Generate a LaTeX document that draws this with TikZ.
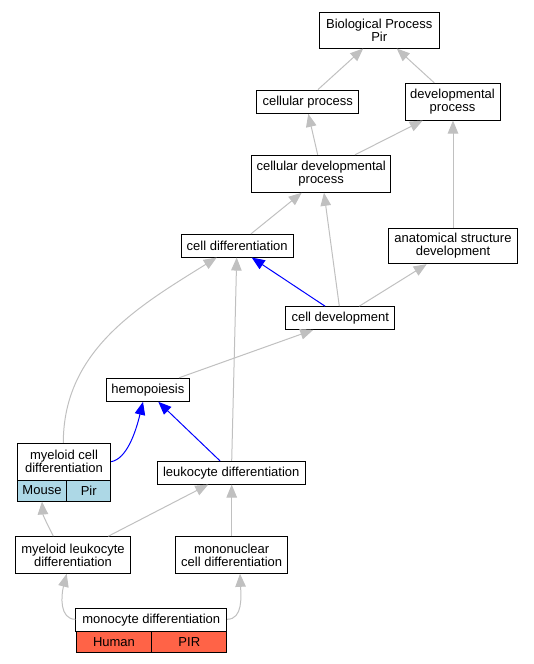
\documentclass[tikz,border=0pt]{standalone}
\usepackage{fontspec}
\setmainfont{Liberation Sans}
\usetikzlibrary{arrows.meta}
\definecolor{edgegray}{HTML}{C0C0C0}
\definecolor{fieldblue}{HTML}{ADD8E6}
\definecolor{fieldred}{HTML}{FF6347}
\begin{document}
\begin{tikzpicture}[x=1pt,y=-1pt,
  box/.style={draw=black, line width=1pt, fill=white, inner sep=0pt, align=center,
    font=\fontsize{13}{13}\selectfont},
  edge/.style={draw=edgegray, line width=1pt, -{Triangle[length=13pt,width=10.5pt]}},
  bedge/.style={edge, draw=blue}]
\useasboundingbox (0,0) rectangle (533,664);
% nodes
\node[box, minimum width=119.7pt, minimum height=36pt] (bp) at (379.2,30) {Biological Process\\Pir};
\node[box, minimum width=102pt, minimum height=23.3pt] (cp) at (307.7,101.7) {cellular process};
\node[box, minimum width=95pt, minimum height=36.7pt] (dp) at (452.5,101.7) {developmental\\process};
\node[box, minimum width=139pt, minimum height=37pt] (cdp) at (321.2,173.8) {cellular developmental\\process};
\node[box, minimum width=112.3pt, minimum height=22.7pt] (cd) at (237.2,245.7) {cell differentiation};
\node[box, minimum width=128.7pt, minimum height=35.4pt] (asd) at (453,246) {anatomical structure\\development};
\node[box, minimum width=108.7pt, minimum height=22.7pt] (cdev) at (340.3,318) {cell development};
\node[box, minimum width=83pt, minimum height=23pt] (hemo) at (147.8,389.8) {hemopoiesis};
\node[box, minimum width=93.4pt, minimum height=36.7pt] (mcd) at (64,461.7) {myeloid cell\\differentiation};
\node[box, fill=fieldblue, minimum width=49.4pt, minimum height=21pt] (mcdA) at (42,490.5) {Mouse};
\node[box, fill=fieldblue, minimum width=44pt, minimum height=21pt] (mcdB) at (88.7,490.5) {Pir};
\node[box, minimum width=148.3pt, minimum height=22.7pt] (ld) at (231.2,472.7) {leukocyte differentiation};
\node[box, minimum width=114.6pt, minimum height=36.6pt] (mld) at (73,555) {myeloid leukocyte\\differentiation};
\node[box, minimum width=112pt, minimum height=36.6pt] (mnd) at (231.7,555) {mononuclear\\cell differentiation};
\node[box, minimum width=150.7pt, minimum height=22.7pt] (mono) at (151.3,620.3) {monocyte differentiation};
\node[box, fill=fieldred, minimum width=76pt, minimum height=21pt] (monoA) at (114,642.2) {Human};
\node[box, fill=fieldred, minimum width=74.7pt, minimum height=21pt] (monoB) at (189.3,642.2) {PIR};
% edges
\draw[edge] ([xshift=10.3pt]cp.north) -- ([xshift=-16pt]bp.south);
\draw[edge] ([xshift=-18.2pt]dp.north) -- ([xshift=17.5pt]bp.south);
\draw[edge] ([xshift=-3.5pt]cdp.north) -- ([xshift=0.6pt]cp.south);
\draw[edge] ([xshift=33.8pt]cdp.north) -- ([xshift=-29.8pt]dp.south);
\draw[edge] (asd.north) -- ([xshift=0.5pt]dp.south);
\draw[edge] ([xshift=13.8pt]cd.north) -- ([xshift=-19.5pt]cdp.south);
\draw[edge] ([xshift=-1pt]cdev.north) -- ([xshift=2.8pt]cdp.south);
\draw[bedge] ([xshift=-15.3pt]cdev.north) -- ([xshift=14.5pt]cd.south);
\draw[edge] ([xshift=19pt]cdev.north) -- ([xshift=-26.3pt]asd.south);
\draw[edge] ([xshift=31.2pt]hemo.north) -- ([xshift=-27pt]cdev.south);
\draw[edge] ([xshift=-0.7pt]mcd.north) .. controls +(0,-93) and +(-77,48) .. ([xshift=-20.5pt]cd.south);
\draw[edge] ([xshift=0.5pt]ld.north) -- ([xshift=-0.5pt]cd.south);
\draw[bedge] (mcd.east) .. controls +(16,-3) and +(-7,29) .. ([xshift=-4.8pt]hemo.south);
\draw[bedge] ([xshift=-11.2pt]ld.north) -- ([xshift=10.5pt]hemo.south);
\draw[edge] ([xshift=-19.7pt]mld.north) .. controls +(-5,-10) and +(1,14) .. (mcdA.south);
\draw[edge] ([xshift=35.3pt]mld.north) -- ([xshift=-22.9pt]ld.south);
\draw[edge] (mnd.north) -- ([xshift=0.5pt]ld.south);
\draw[edge] ([yshift=1pt]mono.west) .. controls +(-16,0) and +(-5.7,22) .. ([xshift=-6.3pt]mld.south);
\draw[edge] ([yshift=1pt]mono.east) .. controls +(16,0) and +(1,22) .. ([xshift=8.3pt]mnd.south);
\end{tikzpicture}
\end{document}
